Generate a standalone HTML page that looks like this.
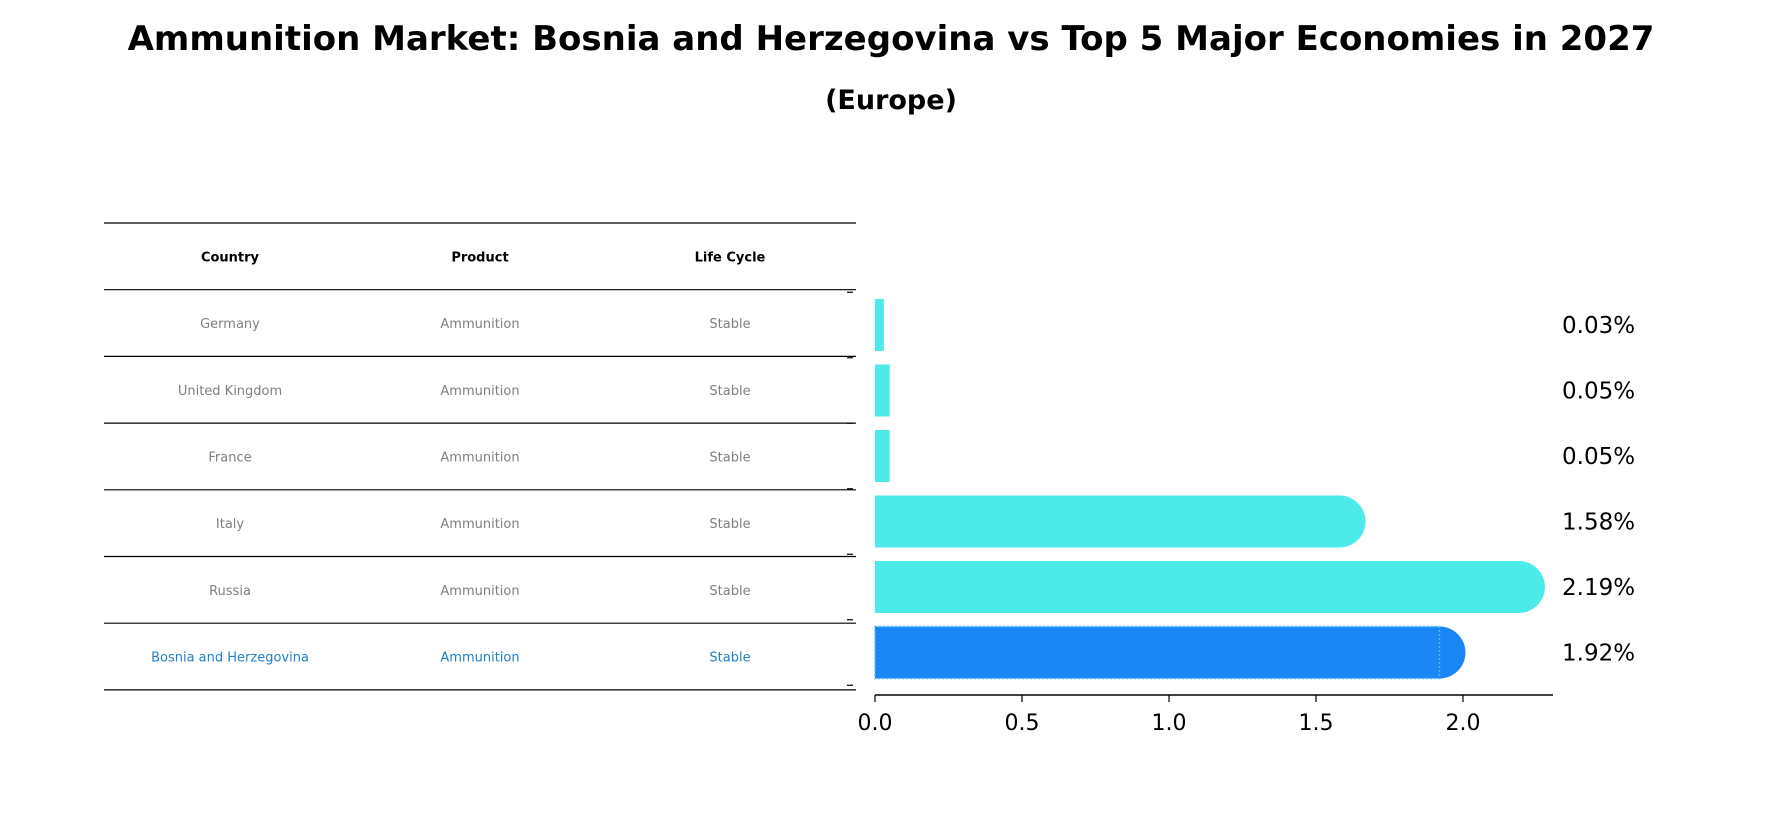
<!DOCTYPE html>
<html><head><meta charset="utf-8"><style>
html,body{margin:0;padding:0;background:#fff;}
body{width:1783px;height:823px;position:relative;overflow:hidden;font-family:"DejaVu Sans","Liberation Sans",sans-serif;}
</style></head><body>
<svg id="chart" width="1783" height="823" xmlns="http://www.w3.org/2000/svg" font-family="DejaVu Sans, Liberation Sans, sans-serif">
<text x="891" y="50" text-anchor="middle" font-size="34" font-weight="bold">Ammunition Market: Bosnia and Herzegovina vs Top 5 Major Economies in 2027</text>
<text x="891" y="109" text-anchor="middle" font-size="27" font-weight="bold">(Europe)</text>
<g id="table"></g>
<g id="bars"></g>
</svg>
<script>
const countries = ["Germany","United Kingdom","France","Italy","Russia","Bosnia and Herzegovina"];
const products = ["Ammunition","Ammunition","Ammunition","Ammunition","Ammunition","Ammunition"];
const lifeCycles = ["Stable","Stable","Stable","Stable","Stable","Stable"];
const values = [0.03,0.05,0.05,1.58,2.19,1.92];
const xTicks = [0.0,0.5,1.0,1.5,2.0];
const xTickLabels = ["0.0","0.5","1.0","1.5","2.0"];
const highlightIndex = 5;

const NS="http://www.w3.org/2000/svg";
function mk(tag,attrs,parent){const e=document.createElementNS(NS,tag);for(const k in attrs)e.setAttribute(k,attrs[k]);parent.appendChild(e);return e;}
const table=document.getElementById('table');
const bars=document.getElementById('bars');
const rowTop=223, rowH=66.7, tx0=104, tx1=856;
const colX=[230,480,730];
// header
["Country","Product","Life Cycle"].forEach((h,i)=>{
  const t=mk('text',{x:colX[i],y:rowTop+rowH/2+5,'text-anchor':'middle','font-size':13,'font-weight':'bold',fill:'#000'},table);
  t.textContent=h;
  
  
});
for(let i=0;i<=countries.length+1;i++){
  const l=mk('line',{x1:tx0,x2:tx1,y1:rowTop+i*rowH,y2:rowTop+i*rowH,stroke:'#000','stroke-width':1.2},table);
  
  
}
countries.forEach((c,i)=>{
  const y=rowTop+(i+1)*rowH+rowH/2+5;
  const col=i===highlightIndex?'#1f7fc8':'#808080';
  [c,products[i],lifeCycles[i]].forEach((v,j)=>{
    const t=mk('text',{x:colX[j],y:y,'text-anchor':'middle','font-size':13,fill:col},table);
    t.textContent=v;
    
    
  });
});
// bar axes
const x0=875, pxPerUnit=294, axisY=695, barH=52;
const xs=v=>x0+v*pxPerUnit;
const yc=i=>325+i*65.5;
values.forEach((v,i)=>{
  const col=i===highlightIndex?'#1a86f5':'#4cebea';
  const w=xs(v)-x0, cy=yc(i);
  const g=mk('g',{},bars);
  
  
  mk('rect',{x:x0,y:cy-barH/2,width:w,height:barH,fill:col},g);
  if(w>barH/2) mk('circle',{cx:xs(v),cy:cy,r:barH/2,fill:col},g);
  if(i===highlightIndex) mk('rect',{x:x0,y:cy-barH/2,width:w,height:barH,fill:'none',stroke:'#4cc0f0','stroke-width':1.5,'stroke-dasharray':'2,2'},g);
  const t=mk('text',{x:1562,y:cy+8,'font-size':23,fill:'#000'},bars);
  t.textContent=v.toFixed(2)+'%';
  
  
});
// y ticks at boundaries
for(let i=0;i<=values.length;i++){
  const y=yc(i)-32.75;
  const l=mk('line',{x1:847,x2:853,y1:y,y2:y,stroke:'#000','stroke-width':1.2},bars);
  
  
}
const ax=mk('line',{x1:x0,x2:1553,y1:axisY,y2:axisY,stroke:'#000','stroke-width':1.5},bars);


xTicks.forEach((v,i)=>{
  const tk=mk('line',{x1:xs(v),x2:xs(v),y1:axisY,y2:axisY+7,stroke:'#000','stroke-width':1.2},bars);
  
  
  const t=mk('text',{x:xs(v),y:axisY+35,'text-anchor':'middle','font-size':22,fill:'#000'},bars);
  t.textContent=xTickLabels[i];
  
  
});
</script>
</body></html>
